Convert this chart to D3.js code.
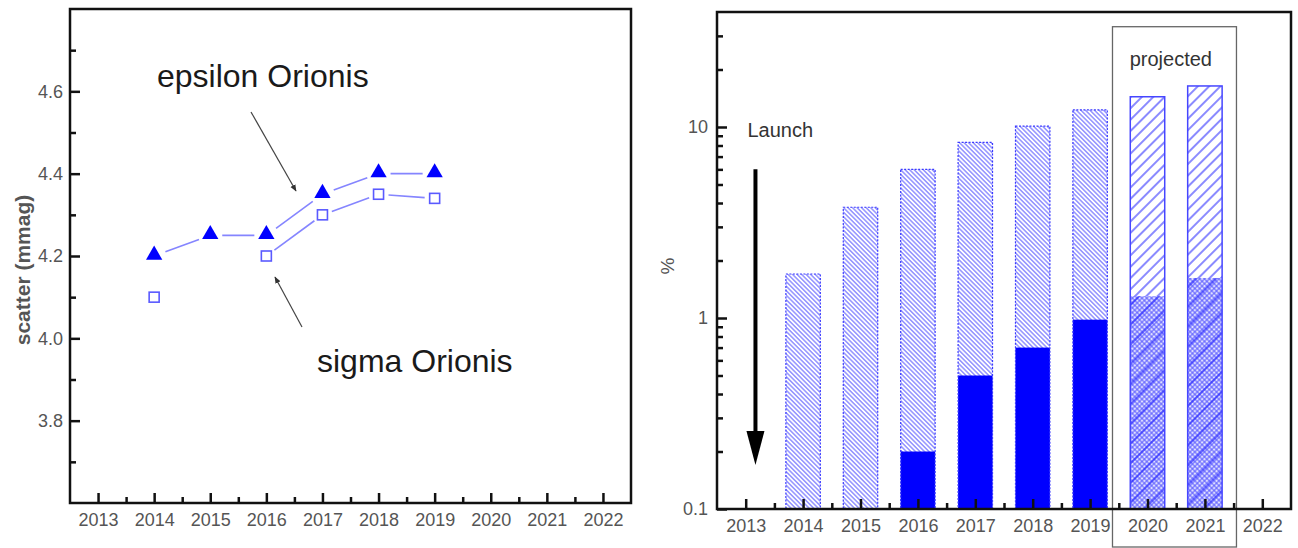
<!DOCTYPE html>
<html>
<head>
<meta charset="utf-8">
<script src="https://cdn.jsdelivr.net/npm/d3@7"></script>
<style>
body { margin: 0; background: #fff; }
text { font-family: "Liberation Sans", Arial, sans-serif; }
</style>
</head>
<body>
<svg id="chart"></svg>
<script>
// page size
var width = 1298;
var height = 548;

// left panel: scatter per year
var years = [2013, 2014, 2015, 2016, 2017, 2018, 2019, 2020, 2021, 2022];
var epsYears = [2014, 2015, 2016, 2017, 2018, 2019];
var epsVals = [4.20, 4.25, 4.25, 4.35, 4.40, 4.40];
var sigYears = [2014, 2016, 2017, 2018, 2019];
var sigVals = [4.10, 4.20, 4.30, 4.35, 4.34];
var leftTicks = [3.8, 4.0, 4.2, 4.4, 4.6];
var leftMinor = [3.7, 3.9, 4.1, 4.3, 4.5, 4.7];

// right panel: percentage bars (log scale)
var barYears = [2014, 2015, 2016, 2017, 2018, 2019, 2020, 2021];
var barTotal = [1.7, 3.8, 6.0, 8.3, 10.1, 12.3, 14.4, 16.4];
var barSolid = [0, 0, 0.2, 0.5, 0.7, 0.98, 1.3, 1.62];
var barProjected = [false, false, false, false, false, false, true, true];
var rightTicks = [0.1, 1, 10];
var rightMinor = [0.2, 0.3, 0.4, 0.5, 0.6, 0.7, 0.8, 0.9, 2, 3, 4, 5, 6, 7, 8, 9, 20, 30];

var svg = d3.select("#chart")
  .attr("width", width)
  .attr("height", height);

// patterns
var defs = svg.append("defs");

function linePattern(id, size, angle, color, sw, bg) {
  var p = defs.append("pattern")
    .attr("id", id)
    .attr("patternUnits", "userSpaceOnUse")
    .attr("width", size)
    .attr("height", size)
    .attr("patternTransform", "rotate(" + angle + ")");
  if (bg) p.append("rect").attr("width", size).attr("height", size).attr("fill", bg);
  p.append("line")
    .attr("x1", size / 2).attr("y1", 0)
    .attr("x2", size / 2).attr("y2", size)
    .attr("stroke", color)
    .attr("stroke-width", sw);
  return p;
}

linePattern("backHatch", 3.2, -45, "#6a6aff", 1.1, "#ffffff");
linePattern("fwdHatch", 8, 45, "#3c3cff", 1.2, "#ffffff");
linePattern("fwdSparse", 14, 45, "#1a1aff", 1.1, null);

var cross = defs.append("pattern")
  .attr("id", "crossHatch")
  .attr("patternUnits", "userSpaceOnUse")
  .attr("width", 3.4)
  .attr("height", 3.4)
  .attr("patternTransform", "rotate(45)");
cross.append("rect").attr("width", 3.4).attr("height", 3.4).attr("fill", "#e0e0ff");
cross.append("line").attr("x1", 1.7).attr("y1", 0).attr("x2", 1.7).attr("y2", 3.4)
  .attr("stroke", "#5252ff").attr("stroke-width", 0.9);
cross.append("line").attr("x1", 0).attr("y1", 1.7).attr("x2", 3.4).attr("y2", 1.7)
  .attr("stroke", "#5252ff").attr("stroke-width", 0.9);

defs.append("marker")
  .attr("id", "thinArrow")
  .attr("viewBox", "0 0 10 10")
  .attr("refX", 9).attr("refY", 5)
  .attr("markerWidth", 7).attr("markerHeight", 7)
  .attr("markerUnits", "userSpaceOnUse")
  .attr("orient", "auto")
  .append("path")
    .attr("d", "M0,1 L10,5 L0,9 Z")
    .attr("fill", "#333");

function styleAxis(g, size) {
  g.select(".domain").remove();
  g.selectAll(".tick line").attr("stroke", "#111").attr("stroke-width", 2.5);
  g.selectAll("text")
    .attr("fill", "#555")
    .attr("font-size", size)
    .attr("font-family", "'Liberation Sans', Arial, sans-serif");
}

// ---------------- left panel ----------------
var xL = d3.scaleLinear().domain([2012.5, 2022.5]).range([70, 631]);
var yL = d3.scaleLinear().domain([3.6, 4.8]).range([503, 9]);

var left = svg.append("g").attr("id", "leftPanel");

left.append("g")
  .attr("transform", "translate(" + xL.range()[0] + ",0)")
  .call(d3.axisLeft(yL).tickValues(leftTicks).tickSize(-10).tickPadding(7).tickFormat(d3.format(".1f")))
  .call(styleAxis, 18);
left.append("g")
  .attr("transform", "translate(" + xL.range()[0] + ",0)")
  .call(d3.axisLeft(yL).tickValues(leftMinor).tickSize(-6).tickFormat(""))
  .call(styleAxis, 18);
left.append("g")
  .attr("transform", "translate(0," + yL.range()[0] + ")")
  .call(d3.axisBottom(xL).tickValues(years).tickSize(-10).tickPadding(10).tickFormat(d3.format("d")))
  .call(styleAxis, 18);
left.append("g")
  .attr("transform", "translate(0," + yL.range()[0] + ")")
  .call(d3.axisBottom(xL).tickValues(years.slice(0, -1).map(d => d + 0.5)).tickSize(-6).tickFormat(""))
  .call(styleAxis, 18);

left.append("rect")
  .attr("x", xL.range()[0]).attr("y", yL.range()[1])
  .attr("width", xL.range()[1] - xL.range()[0])
  .attr("height", yL.range()[0] - yL.range()[1])
  .attr("fill", "none")
  .attr("stroke", "#111")
  .attr("stroke-width", 2.5);

// connecting segments, broken around the markers
function segments(xs, vs, gap) {
  var segs = [];
  for (var i = 1; i < xs.length; i++) {
    if (xs[i] - xs[i - 1] !== 1) continue;
    var x0 = xL(xs[i - 1]), y0 = yL(vs[i - 1]);
    var x1 = xL(xs[i]), y1 = yL(vs[i]);
    var len = Math.hypot(x1 - x0, y1 - y0);
    var ux = (x1 - x0) / len, uy = (y1 - y0) / len;
    segs.push([x0 + ux * gap, y0 + uy * gap, x1 - ux * gap, y1 - uy * gap]);
  }
  return segs;
}

left.append("g").selectAll("line")
  .data(segments(epsYears, epsVals, 12).concat(segments(sigYears, sigVals, 10)))
  .enter().append("line")
    .attr("x1", d => d[0]).attr("y1", d => d[1])
    .attr("x2", d => d[2]).attr("y2", d => d[3])
    .attr("stroke", "#8585ff")
    .attr("stroke-width", 1.6);

left.append("g").selectAll("path")
  .data(epsYears)
  .enter().append("path")
    .attr("d", d3.symbol().type(d3.symbolTriangle).size(115))
    .attr("transform", (d, i) => "translate(" + xL(d) + "," + (yL(epsVals[i]) - 1) + ")")
    .attr("fill", "#0000ff");

left.append("g").selectAll("rect")
  .data(sigYears)
  .enter().append("rect")
    .attr("x", d => xL(d) - 5)
    .attr("y", (d, i) => yL(sigVals[i]) - 5)
    .attr("width", 10).attr("height", 10)
    .attr("fill", "#fff")
    .attr("stroke", "#5a5aff")
    .attr("stroke-width", 1.6);

// annotations
left.append("text")
  .attr("x", 157).attr("y", 87)
  .attr("font-size", 32).attr("fill", "#1a1a1a")
  .text("epsilon Orionis");
left.append("text")
  .attr("x", 317).attr("y", 372)
  .attr("font-size", 32).attr("fill", "#1a1a1a")
  .text("sigma Orionis");
left.append("line")
  .attr("x1", 251).attr("y1", 112).attr("x2", 296).attr("y2", 191)
  .attr("stroke", "#444").attr("stroke-width", 1.2)
  .attr("marker-end", "url(#thinArrow)");
left.append("line")
  .attr("x1", 302).attr("y1", 327).attr("x2", 275).attr("y2", 277)
  .attr("stroke", "#444").attr("stroke-width", 1.2)
  .attr("marker-end", "url(#thinArrow)");

left.append("text")
  .attr("transform", "translate(30,270) rotate(-90)")
  .attr("text-anchor", "middle")
  .attr("font-size", 21).attr("font-weight", "bold").attr("fill", "#555")
  .text("scatter (mmag)");

// ---------------- right panel ----------------
var xR = d3.scaleLinear().domain([2012.5, 2022.5]).range([717, 1291]);
var yR = d3.scaleLog().domain([0.1, 40]).range([509, 12]);
var barW = (xR(2013) - xR(2012.5)) * 1.2;

var right = svg.append("g").attr("id", "rightPanel");

// projected box
right.append("rect")
  .attr("x", xR(2019.39)).attr("y", yR(33.5))
  .attr("width", xR(2021.55) - xR(2019.39))
  .attr("height", height - 1 - yR(33.5))
  .attr("fill", "none")
  .attr("stroke", "#666").attr("stroke-width", 1.3);
right.append("text")
  .attr("x", xR(2019.69)).attr("y", 66)
  .attr("font-size", 20).attr("fill", "#333")
  .text("projected");

var bars = right.append("g").selectAll("g")
  .data(barYears)
  .enter().append("g");

bars.append("rect")
  .attr("x", d => xR(d) - barW / 2)
  .attr("y", (d, i) => yR(barTotal[i]))
  .attr("width", barW)
  .attr("height", (d, i) => yR(0.1) - yR(barTotal[i]))
  .attr("fill", (d, i) => barProjected[i] ? "url(#fwdHatch)" : "url(#backHatch)");

bars.filter((d, i) => barSolid[i] > 0).append("rect")
  .attr("x", d => xR(d) - barW / 2)
  .attr("y", d => yR(barSolid[barYears.indexOf(d)]))
  .attr("width", barW)
  .attr("height", d => yR(0.1) - yR(barSolid[barYears.indexOf(d)]))
  .attr("fill", d => barProjected[barYears.indexOf(d)] ? "url(#crossHatch)" : "#0000ff");

bars.filter((d, i) => barProjected[i]).append("rect")
  .attr("x", d => xR(d) - barW / 2)
  .attr("y", d => yR(barSolid[barYears.indexOf(d)]))
  .attr("width", barW)
  .attr("height", d => yR(0.1) - yR(barSolid[barYears.indexOf(d)]))
  .attr("fill", "url(#fwdSparse)");

bars.append("rect")
  .attr("x", d => xR(d) - barW / 2)
  .attr("y", (d, i) => yR(barTotal[i]))
  .attr("width", barW)
  .attr("height", (d, i) => yR(0.1) - yR(barTotal[i]))
  .attr("fill", "none")
  .attr("stroke", (d, i) => barProjected[i] ? "#4646ff" : "#3a3aff")
  .attr("stroke-width", (d, i) => barProjected[i] ? 1.5 : 1.2)
  .attr("stroke-dasharray", (d, i) => barProjected[i] ? null : "2,1.5");

right.append("g")
  .attr("transform", "translate(" + xR.range()[0] + ",0)")
  .call(d3.axisLeft(yR).tickValues(rightTicks).tickSize(-10).tickPadding(9).tickFormat(d => String(d)))
  .call(styleAxis, 18);
right.append("g")
  .attr("transform", "translate(" + xR.range()[0] + ",0)")
  .call(d3.axisLeft(yR).tickValues(rightMinor).tickSize(-6).tickFormat(""))
  .call(styleAxis, 18);
right.append("g")
  .attr("transform", "translate(0," + yR.range()[0] + ")")
  .call(d3.axisBottom(xR).tickValues(years).tickSize(-10).tickPadding(10).tickFormat(d3.format("d")))
  .call(styleAxis, 18);
right.append("g")
  .attr("transform", "translate(0," + yR.range()[0] + ")")
  .call(d3.axisBottom(xR).tickValues(years.slice(0, -1).map(d => d + 0.5)).tickSize(-6).tickFormat(""))
  .call(styleAxis, 18);

right.append("rect")
  .attr("x", xR.range()[0]).attr("y", yR.range()[1])
  .attr("width", xR.range()[1] - xR.range()[0])
  .attr("height", yR.range()[0] - yR.range()[1])
  .attr("fill", "none")
  .attr("stroke", "#111")
  .attr("stroke-width", 2.5);

// launch arrow
var lx = xR(2013.17);
var tipY = yR(0.17);
right.append("line")
  .attr("x1", lx).attr("y1", yR(6.0))
  .attr("x2", lx).attr("y2", tipY - 30)
  .attr("stroke", "#000").attr("stroke-width", 4);
right.append("path")
  .attr("d", "M" + (lx - 9) + "," + (tipY - 34) + " L" + (lx + 9) + "," + (tipY - 34) + " L" + lx + "," + tipY + " Z")
  .attr("fill", "#000");
right.append("text")
  .attr("x", lx - 8).attr("y", 137)
  .attr("font-size", 20).attr("fill", "#333")
  .text("Launch");

right.append("text")
  .attr("transform", "translate(674,266) rotate(-90)")
  .attr("text-anchor", "middle")
  .attr("font-size", 19).attr("fill", "#555")
  .text("%");
</script>
</body>
</html>
